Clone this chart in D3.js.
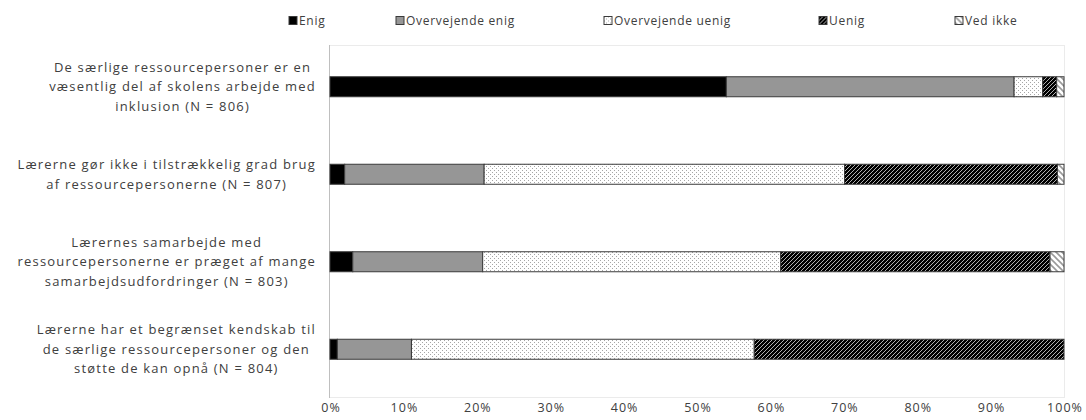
<!DOCTYPE html>
<html>
<head>
<meta charset="utf-8">
<script src="https://cdn.jsdelivr.net/npm/d3@7"></script>
<style>
  html, body { margin: 0; padding: 0; background: #fff; }
  svg { display: block; }
  text { font-family: "Open Sans", sans-serif; fill: #404040; }
</style>
</head>
<body>
<svg id="chart" width="1086" height="420"></svg>
<script>
// Statements (each wrapped over the lines it is set in)
const categories = [
  ["De særlige ressourcepersoner er en", "væsentlig del af skolens arbejde med", "inklusion (N = 806)"],
  ["Lærerne gør ikke i tilstrækkelig grad brug", "af ressourcepersonerne (N = 807)"],
  ["Lærernes samarbejde med", "ressourcepersonerne er præget af mange", "samarbejdsudfordringer (N = 803)"],
  ["Lærerne har et begrænset kendskab til", "de særlige ressourcepersoner og den", "støtte de kan opnå (N = 804)"]
];

// Answer options, in stacking order
const seriesNames = ["Enig", "Overvejende enig", "Overvejende uenig", "Uenig", "Ved ikke"];

// Share of answers (%) per statement, one array per answer option
const enig            = [54.0,  2.0,  3.1,  1.0];
const overvejendeEnig = [39.2, 19.0, 17.7, 10.1];
const overvejendeUenig= [ 3.9, 49.1, 40.6, 46.7];
const uenig           = [ 1.9, 29.0, 36.7, 42.2];
const vedIkke         = [ 1.0,  0.9,  1.9,  0.0];

const tickValues = [0, 10, 20, 30, 40, 50, 60, 70, 80, 90, 100];
const tickLabels = ["0%", "10%", "20%", "30%", "40%", "50%", "60%", "70%", "80%", "90%", "100%"];

// ---- build rows for stacking ----
const seriesValues = [enig, overvejendeEnig, overvejendeUenig, uenig, vedIkke];
const rows = categories.map((c, i) => {
  const r = { idx: i };
  seriesNames.forEach((s, k) => { r[s] = seriesValues[k][i]; });
  return r;
});
const stacked = d3.stack().keys(seriesNames)(rows);

const svg = d3.select("#chart");
const defs = svg.append("defs");

// Fill patterns
const pDots = defs.append("pattern").attr("id", "p-dots")
  .attr("patternUnits", "userSpaceOnUse").attr("width", 4).attr("height", 4);
pDots.append("rect").attr("width", 4).attr("height", 4).attr("fill", "#fff");
pDots.append("rect").attr("x", 0).attr("y", 0).attr("width", 1).attr("height", 1).attr("fill", "#a6a6a6");
pDots.append("rect").attr("x", 2).attr("y", 2).attr("width", 1).attr("height", 1).attr("fill", "#a6a6a6");

const pUp = defs.append("pattern").attr("id", "p-up")
  .attr("patternUnits", "userSpaceOnUse").attr("width", 4).attr("height", 4);
pUp.append("rect").attr("width", 4).attr("height", 4).attr("fill", "#000");
pUp.append("path").attr("d", "M-1,1 L1,-1 M0,4 L4,0 M3,5 L5,3")
  .attr("stroke", "#b0b0b0").attr("stroke-width", 1);

const pDown = defs.append("pattern").attr("id", "p-down")
  .attr("patternUnits", "userSpaceOnUse").attr("width", 6).attr("height", 6);
pDown.append("rect").attr("width", 6).attr("height", 6).attr("fill", "#fff");
pDown.append("path").attr("d", "M-1,5 L1,7 M0,0 L6,6 M5,-1 L7,1")
  .attr("stroke", "#9a9a9a").attr("stroke-width", 1.6);

const fills = {
  "Enig": "#000000",
  "Overvejende enig": "#969696",
  "Overvejende uenig": "url(#p-dots)",
  "Uenig": "url(#p-up)",
  "Ved ikke": "url(#p-down)"
};

// ---- scales ----
const plot = { left: 330, right: 1064, top: 43, bottom: 393 };
const x = d3.scaleLinear().domain([0, 100]).range([plot.left, plot.right]);
const pad = 1 - 20 / 87.5;
const y = d3.scaleBand().domain(d3.range(categories.length))
  .range([plot.top, plot.bottom]).paddingInner(pad).paddingOuter(pad / 2);

// plot frame
svg.append("rect")
  .attr("x", plot.left - 0.5).attr("y", 45.5)
  .attr("width", plot.right - plot.left + 1).attr("height", 352)
  .attr("fill", "none").attr("stroke", "#ebebeb");
svg.append("line")
  .attr("x1", plot.left - 0.5).attr("x2", plot.left - 0.5)
  .attr("y1", 45).attr("y2", 398)
  .attr("stroke", "#bfbfbf");

// ---- bars ----
svg.append("g").selectAll("g").data(stacked).join("g")
  .attr("fill", d => fills[d.key])
  .selectAll("rect").data(d => d).join("rect")
  .filter(d => d[1] - d[0] > 0)
  .attr("x", d => x(d[0]))
  .attr("y", d => y(d.data.idx))
  .attr("width", d => x(d[1]) - x(d[0]))
  .attr("height", y.bandwidth())
  .attr("stroke", "#3a3a3a").attr("stroke-width", 1);

// ---- category labels (each block centred, right edge at a fixed x) ----
const labelRight = 316;
const lineH = 19.5;
categories.forEach((lines, i) => {
  const g = svg.append("g");
  const t = g.append("text").attr("font-size", 13)
    .attr("letter-spacing", 1.2).attr("text-anchor", "middle");
  const cy = y(i) + y.bandwidth() / 2;
  lines.forEach((ln, j) => {
    t.append("tspan")
      .attr("x", 0)
      .attr("y", cy + (j - (lines.length - 1) / 2) * lineH)
      .attr("dy", "0.35em")
      .text(ln);
  });
  let maxW = 0;
  t.selectAll("tspan").each(function () {
    maxW = Math.max(maxW, this.getComputedTextLength());
  });
  t.selectAll("tspan").attr("x", labelRight - maxW / 2);
});

// ---- x axis labels ----
const xAxis = d3.axisBottom(x)
  .tickValues(tickValues)
  .tickFormat((d, i) => tickLabels[i])
  .tickSize(0).tickPadding(0);
const gx = svg.append("g").attr("transform", "translate(0.5,403)").call(xAxis);
gx.select(".domain").remove();
gx.selectAll("text")
  .attr("font-size", 12.5)
  .attr("letter-spacing", 1)
  .attr("font-family", "Open Sans, sans-serif")
  .attr("fill", "#404040")
  .attr("dy", "0.71em");

// ---- legend ----
const legendX = [289, 396, 604, 819, 955];
const lg = svg.append("g");
seriesNames.forEach((name, k) => {
  const item = lg.append("g").attr("transform", `translate(${legendX[k]},16.5)`);
  item.append("rect").attr("width", 8).attr("height", 8)
    .attr("fill", fills[name]).attr("stroke", "#3a3a3a").attr("stroke-width", 1);
  item.append("text").attr("x", 10).attr("y", 4).attr("dy", "0.35em")
    .attr("font-size", 12).attr("letter-spacing", 0.7).text(name);
});
</script>
</body>
</html>
